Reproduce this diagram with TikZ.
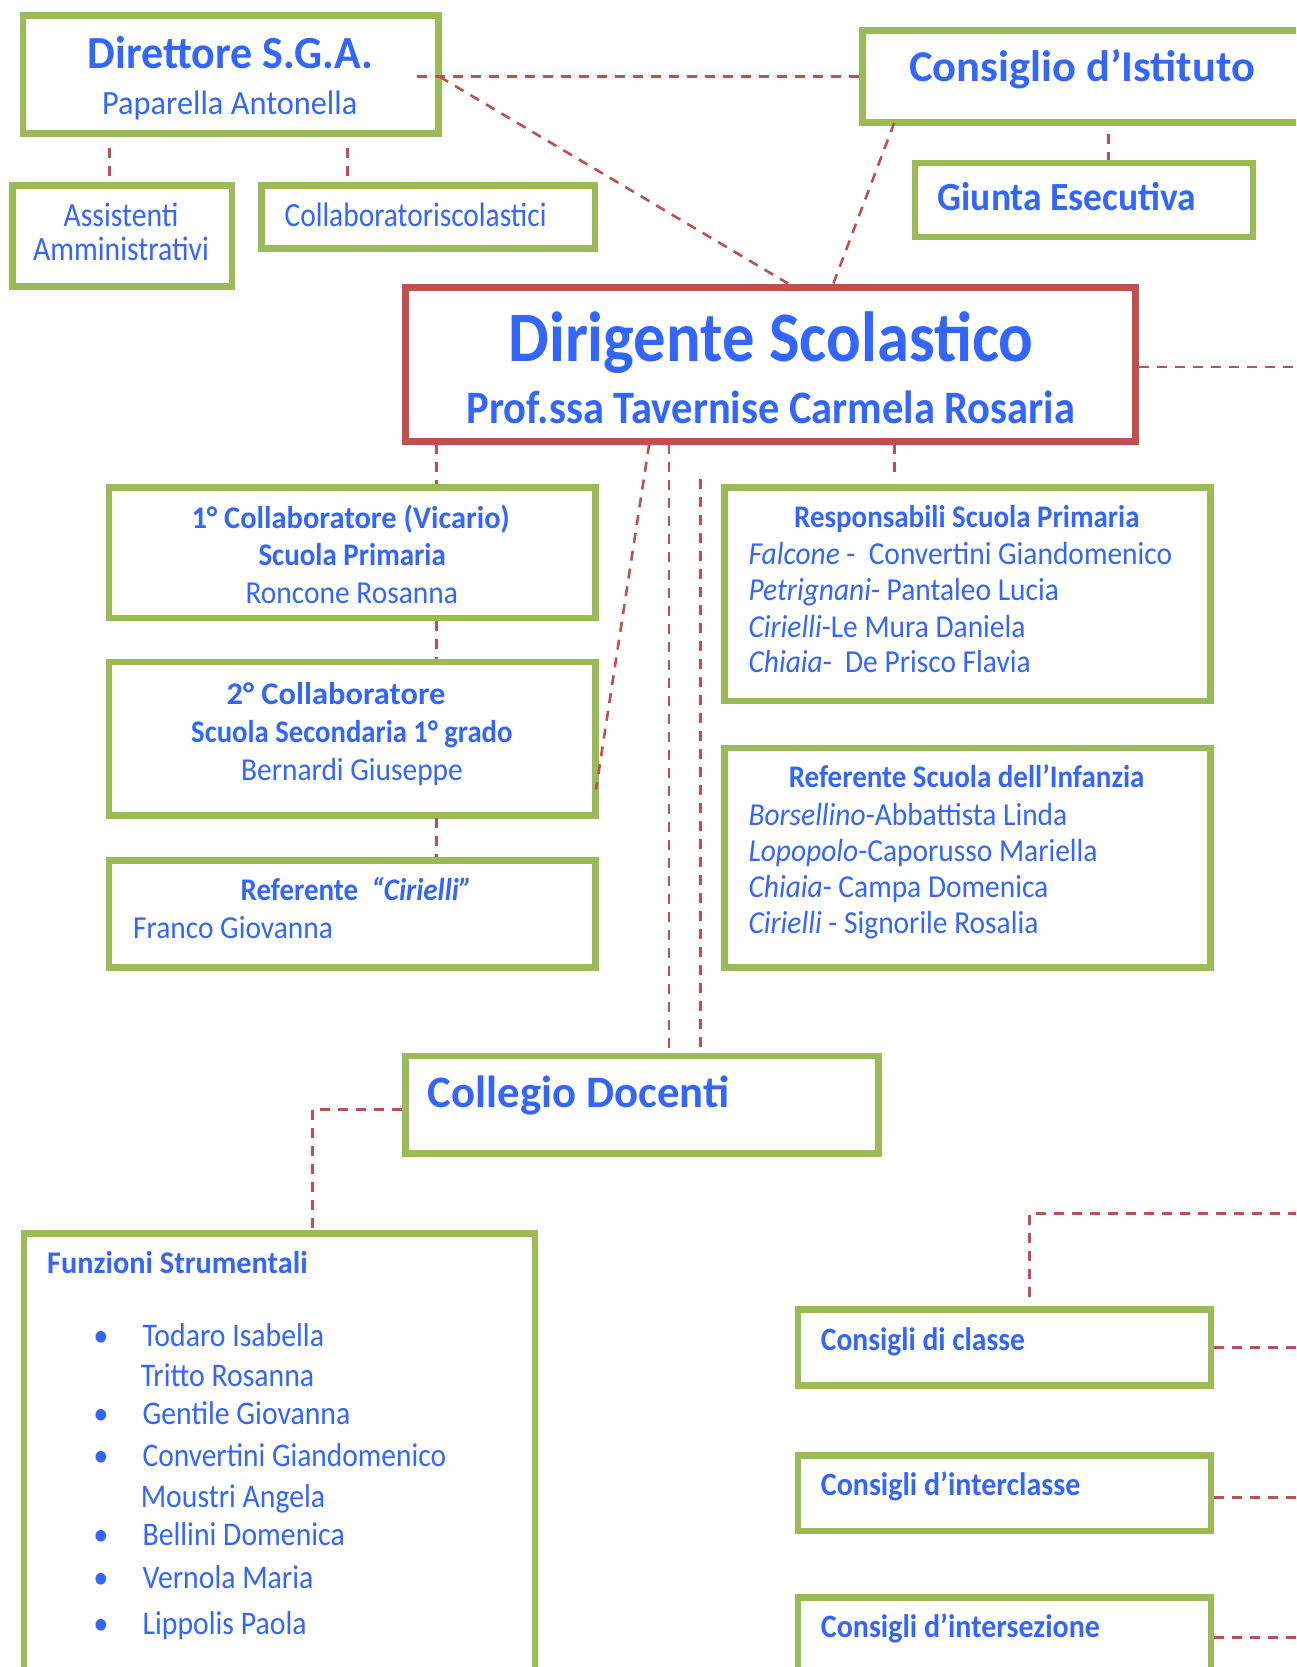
\documentclass[tikz,border=0pt]{standalone}
\usepackage{fontspec}
\setmainfont{Carlito}[FakeStretch=0.92]
\newfontfamily\bfam{Carlito}[FakeStretch=0.92]
\definecolor{tblue}{HTML}{3366FF}
\definecolor{gboxc}{HTML}{9BBB59}
\definecolor{rboxc}{HTML}{C0504D}
\newcommand\setfs[1]{\fontsize{#1pt}{#1pt}\selectfont}
\newcommand\bt[1]{\bfam\bfseries\setfs{#1}}
\newcommand\rt[1]{\normalfont\setfs{#1}}
\newcommand\sx[2]{\scalebox{#1}[1]{#2}}
\begin{document}
\begin{tikzpicture}[x=1pt,y=-1pt,
  greenbox/.style={draw=gboxc, line width=6.5pt, inner sep=0pt},
  redbox/.style={draw=rboxc, line width=6.5pt, inner sep=0pt},
  link/.style={draw=rboxc, line width=2.6pt, dash pattern=on 10pt off 8pt},
  tx/.style={text=tblue, inner sep=0pt, anchor=base},
  txl/.style={text=tblue, inner sep=0pt, anchor=base west}]
\useasboundingbox (0,0) rectangle (1296,1667);
\clip (0,0) rectangle (1296,1667);
\fill[white] (0,0) rectangle (1296,1667);

% ---------- boxes ----------
\node[greenbox, minimum width=415.5pt, minimum height=118pt] (dir) at (230.75,74.7) {};
\node[greenbox, minimum width=219.5pt, minimum height=101pt] (ass) at (122.25,236) {};
\node[greenbox, minimum width=333.5pt, minimum height=63pt] (col) at (428.25,217) {};
\node[greenbox, minimum width=457.4pt, minimum height=92.4pt] (cons) at (1091.3,76.5) {};
\node[greenbox, minimum width=338pt, minimum height=74pt] (giu) at (1084,200) {};
\node[redbox, minimum width=729.8pt, minimum height=154.2pt] (dirig) at (770.4,364.4) {};
\node[greenbox, minimum width=486.5pt, minimum height=130.6pt] (c1) at (352.25,552.7) {};
\node[greenbox, minimum width=486.5pt, minimum height=153.3pt] (c2) at (352.25,738.65) {};
\node[greenbox, minimum width=486.5pt, minimum height=107.1pt] (ref) at (352.25,913.95) {};
\node[greenbox, minimum width=486.4pt, minimum height=213.5pt] (resp) at (967.5,594.25) {};
\node[greenbox, minimum width=486.4pt, minimum height=219.7pt] (inf) at (967.5,857.65) {};
\node[greenbox, minimum width=473.3pt, minimum height=97.7pt] (coll) at (641.95,1104.65) {};
\node[greenbox, minimum width=511pt, minimum height=466.5pt] (funz) at (279.5,1466.75) {};
\node[greenbox, minimum width=413pt, minimum height=76.2pt] (cdc) at (1004.5,1347.4) {};
\node[greenbox, minimum width=413pt, minimum height=75.7pt] (cdi) at (1004.5,1493.15) {};
\node[greenbox, minimum width=413pt, minimum height=82pt] (cdz) at (1004.5,1638.6) {};

% ---------- connectors ----------
\coordinate (dirH) at (416.7,76.5);
\draw[link] (dirH) -- (dirH -| cons.west);
\coordinate (dirD) at (439.5,76.7);
\coordinate (dgA) at (788,283.5);
\draw[link] (dirD) -- (dgA);
\coordinate (consD) at (894.3,122.7);
\coordinate (dgB) at (833.4,283.5);
\draw[link] (consD) -- (dgB);
\coordinate (giuA) at (1108.6,134);
\draw[link] (giuA) -- (giuA |- giu.north);
\coordinate (assA) at (109.5,148);
\coordinate (assB) at (109.5,179);
\draw[link] (assA) -- (assB);
\coordinate (colA) at (347.4,148);
\coordinate (colB) at (347.4,179);
\draw[link] (colA) -- (colB);
\coordinate (dgR) at (1138.7,367);
\coordinate (edgeR) at (1296,367);
\draw[link] (dgR) -- (edgeR);
\coordinate (dgC1) at (436.5,444);
\draw[link] (dgC1) -- (dgC1 |- c1.north);
\coordinate (c1B) at (436.5,621);
\draw[link] (c1B) -- (c1B |- c2.north);
\coordinate (c2B) at (436.5,818);
\draw[link] (c2B) -- (c2B |- ref.north);
\coordinate (dgD) at (649.2,444);
\coordinate (c2R) at (596,789.5);
\draw[link] (dgD) -- (c2R);
\coordinate (dgE) at (668.8,444);
\draw[link] (dgE) -- (dgE |- coll.north);
\coordinate (vF) at (700.6,479);
\draw[link] (vF) -- (vF |- coll.north);
\coordinate (dgG) at (894.6,444);
\coordinate (respA) at (894.6,476);
\draw[link] (dgG) -- (respA);
\coordinate (collL) at (402,1109.2);
\coordinate (funzT) at (312.3,1231);
\draw[link] (collL) -| (funzT);
\coordinate (cdcT) at (1029.7,1297.3);
\coordinate (edgeT) at (1296,1213.3);
\draw[link] (cdcT) |- (edgeT);
\coordinate (cdcR) at (1296,1347.3);
\draw[link] (cdc.east |- cdcR) -- (cdcR);
\coordinate (cdiR) at (1296,1497.3);
\draw[link] (cdi.east |- cdiR) -- (cdiR);
\coordinate (cdzR) at (1296,1637.7);
\draw[link] (cdz.east |- cdzR) -- (cdzR);

% ---------- texts ----------
\node[tx] (tdir1) at (230.5,69) {\bt{46}\sx{1.04}{Direttore S.G.A.}};
\node[tx] (tdir2) at (229.7,115) {\rt{34}\sx{1.035}{Paparella Antonella}};
\node[tx] (tass1) at (121,226) {\rt{34}\sx{0.95}{Assistenti}};
\node[tx] (tass2) at (121,260.7) {\rt{34}\sx{0.95}{Amministrativi}};
\node[txl] (tcol) at (284.4,226) {\rt{34}\sx{0.94}{Collaboratoriscolastici}};
\node[txl] (tcons) at (908.8,81.7) {\bt{44}\sx{1.10}{Consiglio d’Istituto}};
\node[txl] (tgiu) at (937.6,210.7) {\bt{40}\sx{1.02}{Giunta Esecutiva}};
\node[tx] (tdg1) at (771,361) {\bt{71}\sx{0.99}{Dirigente Scolastico}};
\node[tx] (tdg2) at (771,423.3) {\bt{46.5}\sx{0.993}{Prof.ssa Tavernise Carmela Rosaria}};

\node[tx] (tc11) at (350.6,528.2) {\bt{31.5}\sx{1.05}{1° Collaboratore (Vicario)}};
\node[tx] (tc12) at (352.2,565) {\bt{31.5}Scuola Primaria};
\node[tx] (tc13) at (351.8,603.6) {\rt{32}Roncone Rosanna};
\node[tx] (tc21) at (336,704.6) {\bt{31.5}\sx{1.12}{2° Collaboratore}};
\node[tx] (tc22) at (351.8,742) {\bt{31.5}\sx{0.99}{Scuola Secondaria 1° grado}};
\node[tx] (tc23) at (352,780.7) {\rt{32}Bernardi Giuseppe};
\node[tx] (tref1) at (356.3,900) {\bt{31.5}Referente\ \ \itshape“Cirielli”};
\node[txl] (tref2) at (132.9,938) {\rt{32}Franco Giovanna};

\node[tx] (tr0) at (966.8,527.5) {\bt{31.5}Responsabili Scuola Primaria};
\node[txl] (tr1) at (748.3,564.3) {\rt{32}\textit{Falcone} -\ \ Convertini Giandomenico};
\node[txl] (tr2) at (748.3,600.8) {\rt{32}\textit{Petrignani}- Pantaleo Lucia};
\node[txl] (tr3) at (748.3,637) {\rt{32}\textit{Cirielli}-Le Mura Daniela};
\node[txl] (tr4) at (748.3,672.7) {\rt{32}\textit{Chiaia}-\ \ De Prisco Flavia};

\node[tx] (ti0) at (966.6,787.8) {\bt{31.5}Referente Scuola dell’Infanzia};
\node[txl] (ti1) at (748.3,825.3) {\rt{32}\textit{Borsellino}-Abbattista Linda};
\node[txl] (ti2) at (748.3,861.4) {\rt{32}\textit{Lopopolo}-Caporusso Mariella};
\node[txl] (ti3) at (748.3,897.5) {\rt{32}\textit{Chiaia}- Campa Domenica};
\node[txl] (ti4) at (748.3,933.3) {\rt{32}\textit{Cirielli} - Signorile Rosalia};

\node[txl] (tcoll) at (427.7,1107.2) {\bt{45}\sx{1.08}{Collegio Docenti}};
\node[txl] (tf0) at (47,1273.8) {\bt{31.5}\sx{1.045}{Funzioni Strumentali}};
\node[tx] (b1) at (101,1346) {\rt{33}•};
\node[tx] (b2) at (101,1424) {\rt{33}•};
\node[tx] (b3) at (101,1466.7) {\rt{33}•};
\node[tx] (b4) at (101,1545.1) {\rt{33}•};
\node[tx] (b5) at (101,1588.6) {\rt{33}•};
\node[tx] (b6) at (101,1634.5) {\rt{33}•};
\node[txl] (tf1) at (142.4,1346) {\rt{33}\sx{0.98}{Todaro Isabella}};
\node[txl] (tf2) at (140.6,1386.7) {\rt{33}\sx{0.98}{Tritto Rosanna}};
\node[txl] (tf3) at (142.4,1424) {\rt{33}\sx{0.98}{Gentile Giovanna}};
\node[txl] (tf4) at (142.4,1466.7) {\rt{33}\sx{0.97}{Convertini Giandomenico}};
\node[txl] (tf5) at (140.6,1507.4) {\rt{33}\sx{0.98}{Moustri Angela}};
\node[txl] (tf6) at (142.4,1545.1) {\rt{33}\sx{0.98}{Bellini Domenica}};
\node[txl] (tf7) at (142.4,1588.6) {\rt{33}\sx{0.98}{Vernola Maria}};
\node[txl] (tf8) at (142.4,1634.5) {\rt{33}\sx{0.98}{Lippolis Paola}};

\node[txl] (tcdc) at (820.7,1350) {\bt{32.6}\sx{0.985}{Consigli di classe}};
\node[txl] (tcdi) at (820.7,1495) {\bt{32.6}Consigli d’interclasse};
\node[txl] (tcdz) at (820.7,1637.3) {\bt{32.6}Consigli d’intersezione};
\end{tikzpicture}
\end{document}
